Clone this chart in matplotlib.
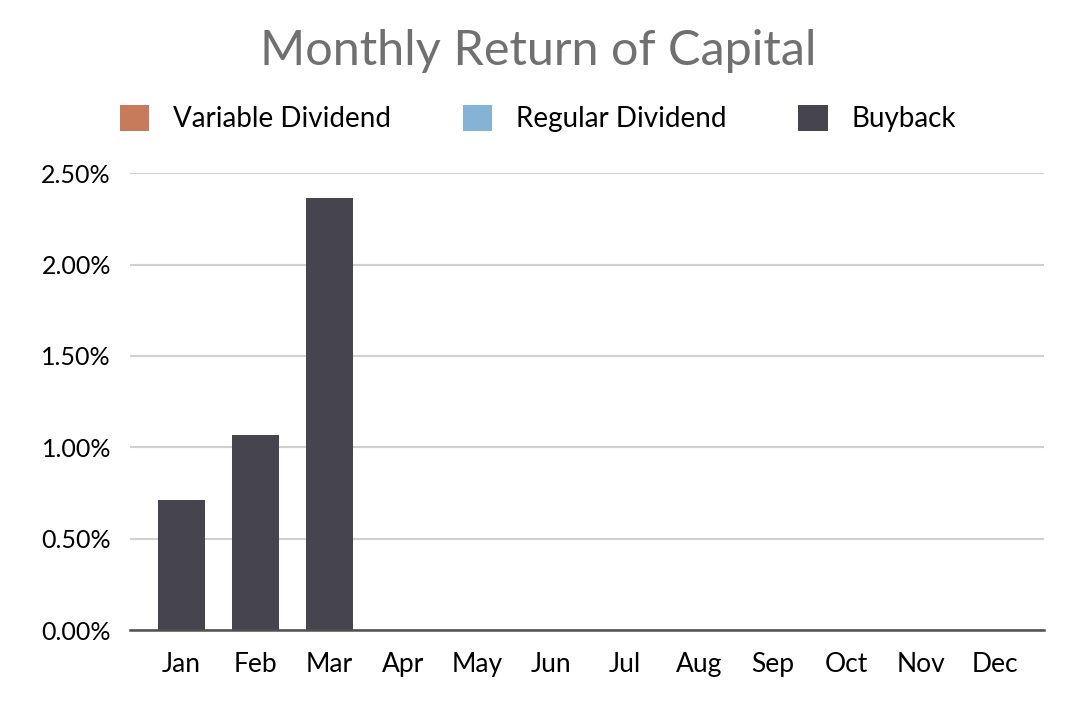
import matplotlib.pyplot as plt
from matplotlib.ticker import FuncFormatter
import numpy as np

months = ['Jan', 'Feb', 'Mar', 'Apr', 'May', 'Jun', 'Jul', 'Aug', 'Sep', 'Oct', 'Nov', 'Dec']
variable_div = [0, 0, 0, 0, 0, 0, 0, 0, 0, 0, 0, 0]
regular_div = [0, 0, 0, 0, 0, 0, 0, 0, 0, 0, 0, 0]
buyback = [0.0071, 0.01065, 0.02365, 0, 0, 0, 0, 0, 0, 0, 0, 0]

plt.rcParams['font.family'] = ['Lato', 'DejaVu Sans']

fig = plt.figure(figsize=(10.78, 7.01), dpi=100)
ax = fig.add_axes([0.121, 0.101, 0.847, 0.652])

x = np.arange(len(months))
w = 0.64
ax.bar(x, variable_div, w, color='#C77B5A', label='Variable Dividend')
ax.bar(x, regular_div, w, bottom=variable_div, color='#85B3D5', label='Regular Dividend')
bottom2 = np.array(variable_div) + np.array(regular_div)
ax.bar(x, buyback, w, bottom=bottom2, color='#45444F', label='Buyback')

ax.set_xlim(-0.69, 11.66)
ax.set_ylim(0, 0.025)
ax.set_yticks(np.arange(0, 0.0251, 0.005))
ax.yaxis.set_major_formatter(FuncFormatter(lambda v, p: f'{v*100:.2f}%'))
ax.set_xticks(x)
ax.set_xticklabels(months)
ax.grid(axis='y', color='#d0d0d0', linewidth=1.5)
ax.set_axisbelow(True)
for s in ['top', 'right', 'left']:
    ax.spines[s].set_visible(False)
ax.spines['bottom'].set_color('#505050')
ax.spines['bottom'].set_linewidth(1.8)
ax.tick_params(length=0, labelsize=18, colors='black', pad=14)
ax.tick_params(axis='x', labelsize=19, pad=16)

fig.text(0.499, 0.927, 'Monthly Return of Capital', ha='center', va='center',
         fontsize=35, color='#707070')
fig.legend(loc='center', bbox_to_anchor=(0.499, 0.831), ncol=3, frameon=False,
           fontsize=20, handlelength=1.05, handleheight=1.05, columnspacing=2.6,
           handletextpad=0.85)

fig.savefig('out.png', dpi=100)
